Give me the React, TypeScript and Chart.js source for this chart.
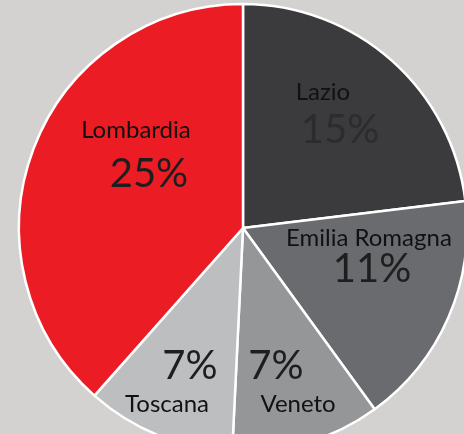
import React, { useEffect, useRef } from "react";
import { Chart, registerables } from "chart.js";

Chart.register(...registerables);

const regions = ["Lazio", "Emilia Romagna", "Veneto", "Toscana", "Lombardia"];
const shares = [15, 11, 7, 7, 25];
const shareLabels = ["15%", "11%", "7%", "7%", "25%"];

const sliceColors = ["#3b3b3d", "#696b6f", "#949698", "#bcbec0", "#ec1c24"];
const pctColors = ["#2c2c2d", "#1e1e1e", "#1e1e1e", "#1e1e1e", "#1e1e1e"];
const nameFirst = [true, true, false, false, true];
// label offsets relative to pie centre, in units of the radius
const nameOffset = [
  [0.357, -0.607],
  [0.562, 0.045],
  [0.246, 0.786],
  [-0.339, 0.786],
  [-0.478, -0.438],
];
const pctOffset = [
  [0.433, -0.438],
  [0.576, 0.183],
  [0.147, 0.616],
  [-0.237, 0.616],
  [-0.42, -0.241],
];

const labelPlugin = {
  id: "sliceLabels",
  afterDatasetsDraw(chart: any) {
    const ctx = chart.ctx;
    const meta = chart.getDatasetMeta(0);
    meta.data.forEach((arc: any, i: number) => {
      const { x, y, outerRadius } = arc.getProps(["x", "y", "outerRadius"], true);
      ctx.save();
      ctx.textAlign = "center";
      ctx.textBaseline = "middle";
      ctx.fillStyle = "#111111";
      ctx.font = "24px Lato";
      ctx.fillText(regions[i], x + nameOffset[i][0] * outerRadius, y + nameOffset[i][1] * outerRadius);
      ctx.fillStyle = pctColors[i];
      ctx.font = "40px Lato";
      ctx.fillText(shareLabels[i], x + pctOffset[i][0] * outerRadius, y + pctOffset[i][1] * outerRadius);
      ctx.restore();
    });
  },
};

export default function App() {
  const ref = useRef<HTMLCanvasElement>(null);
  useEffect(() => {
    if (!ref.current) return;
    const chart = new Chart(ref.current, {
      type: "pie",
      data: {
        labels: regions,
        datasets: [
          {
            data: shares,
            backgroundColor: sliceColors,
            borderColor: "#ffffff",
            borderWidth: 2.5,
          },
        ],
      },
      options: {
        responsive: false,
        animation: false,
        radius: 224,
        layout: { padding: 0 },
        plugins: {
          legend: { display: false },
          tooltip: { enabled: false },
        },
      } as any,
      plugins: [labelPlugin],
    });
    return () => chart.destroy();
  }, []);
  return (
    <div
      style={{
        position: "fixed",
        left: 0,
        top: 0,
        width: 464,
        height: 434,
        overflow: "hidden",
        background: "#d4d2d1",
      }}
    >
      <canvas
        ref={ref}
        width={480}
        height={480}
        style={{ position: "absolute", left: 3, top: -12, width: 480, height: 480 }}
      />
    </div>
  );
}
